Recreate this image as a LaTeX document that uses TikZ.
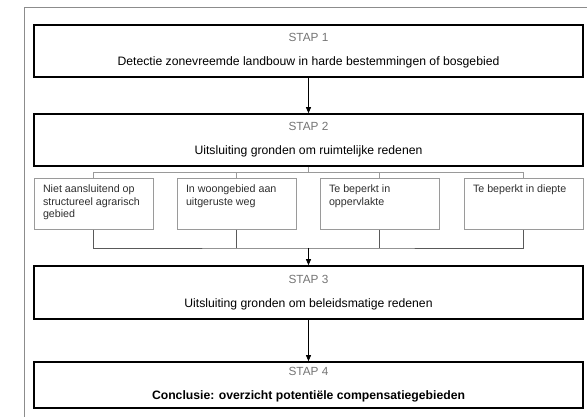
\documentclass[tikz,border=0pt]{standalone}
\usepackage{fontspec}
\setmainfont{Liberation Sans}
\usetikzlibrary{arrows.meta}

\definecolor{framegrey}{HTML}{8C8C8C}
\definecolor{stapgrey}{HTML}{747474}
\definecolor{critgrey}{HTML}{9A9A9A}
\definecolor{crittext}{HTML}{2E2E2E}

\tikzset{
	stapbox/.style={draw=black, line width=1.6pt, minimum width=549pt, minimum height=52pt,
		align=center, inner sep=0pt, font=\fontsize{12.2}{24}\selectfont},
	critbox/.style={draw=critgrey, line width=0.9pt, minimum width=119pt, minimum height=51pt,
		inner sep=0pt, font=\fontsize{10.7}{12.6}\selectfont, text=crittext},
	branch/.style={draw=critgrey, line width=0.9pt},
	flow/.style={draw=black, line width=0.8pt, -{Triangle[length=6pt,width=5pt]}}
}

\newcommand{\stap}[1]{\textcolor{stapgrey}{\fontsize{11.8}{24}\selectfont STAP #1}}
\newcommand{\crit}[1]{\hspace{4pt}\parbox[c][38pt][t]{105pt}{\raggedright #1}}

\begin{document}
\begin{tikzpicture}[x=1pt,y=-1pt]
			%%%%% START %%%%%
			
			\useasboundingbox (0,0) rectangle (587,417);
			\clip (0,0) rectangle (587,417);
			\draw[framegrey, line width=1pt] (24,8) rectangle (640,460);
			
			\node[stapbox] (stap1) at (308.5,51) {\stap{1}\\Detectie zonevreemde landbouw in harde bestemmingen of bosgebied};
			\node[stapbox] (stap2) at (308.5,140) {\stap{2}\\Uitsluiting gronden om ruimtelijke redenen};
			\node[stapbox, minimum height=53pt] (stap3) at (308.5,292.5) {\stap{3}\\Uitsluiting gronden om beleidsmatige redenen};
			\node[stapbox, minimum height=46pt] (stap4) at (308.5,385) {\stap{4}\\\textbf{Conclusie: overzicht potentiële compensatiegebieden}};
			
			\node[critbox] (crit1) at (93.5,204) {\crit{Niet aansluitend op structureel agrarisch gebied}};
			\node[critbox] (crit2) at (236.5,204) {\crit{In woongebied aan uitgeruste weg}};
			\node[critbox] (crit3) at (379.5,204) {\crit{Te beperkt in oppervlakte}};
			\node[critbox] (crit4) at (523.5,204) {\crit{Te beperkt in diepte}};
			
			\draw[flow] (stap1) -- (stap2);
			
			\draw[branch] (stap2.south) -- ++(0,5.5) coordinate (split);
			\draw[branch] (crit1.north) |- (split) -| (crit4.north);
			\draw[branch] (crit2.north) -- (crit2.north |- split);
			\draw[branch] (crit3.north) -- (crit3.north |- split);
			
			\coordinate (merge) at (308.5,248);
			\draw[branch, draw=black!65] (crit1.south) |- (merge) -| (crit4.south);
			\draw[branch, draw=black!65] (crit2.south) -- (crit2.south |- merge);
			\draw[branch, draw=black!65] (crit3.south) -- (crit3.south |- merge);
			\draw[flow] (merge) -- (stap3);
			
			\draw[flow] (stap3) -- (stap4);
			
			%%%%% END %%%%%
\end{tikzpicture}
\end{document}
